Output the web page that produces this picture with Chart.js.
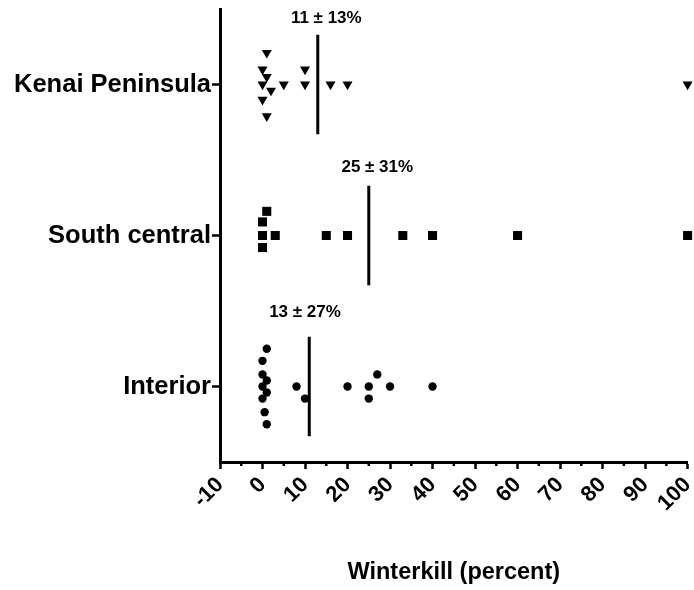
<!DOCTYPE html>
<html>
<head>
<meta charset="utf-8">
<script src="https://cdn.jsdelivr.net/npm/chart.js@4/dist/chart.umd.min.js"></script>
<style>
  html, body { margin: 0; padding: 0; background: #fff; }
  #wrap { width: 694px; height: 590px; }
</style>
</head>
<body>
<div id="wrap"><canvas id="chart"></canvas></div>
<script>
// --- DONNÉES ---
const CATEGORIES = ['Interior', 'South central', 'Kenai Peninsula']; // y = 1, 2, 3
const X_TICKS = [-10, 0, 10, 20, 30, 40, 50, 60, 70, 80, 90, 100];

const kenaiX = [1, 0, 1, 0, 2, 0, 1, 5, 10, 10, 16, 20, 100];
const kenaiY = [3.21, 3.10, 3.05, 3.0, 2.96, 2.90, 2.79, 3.0, 3.10, 3.0, 3.0, 3.0, 3.0];

const southX = [1, 0, 0, 3, 0, 15, 20, 33, 40, 60, 100];
const southY = [2.16, 2.09, 2.0, 2.0, 1.92, 2.0, 2.0, 2.0, 2.0, 2.0, 2.0];

const interiorX = [1, 0, 0, 1, 0, 1, 0, 0.5, 1, 8, 10, 20, 25, 25, 27, 30, 40];
const interiorY = [1.25, 1.17, 1.08, 1.04, 1.0, 0.96, 0.92, 0.83, 0.75, 1.0, 0.92, 1.0, 1.0, 0.92, 1.08, 1.0, 1.0];

// lignes de moyenne (Kenai, South central, Interior)
const meanX = [13, 25, 11];
const meanRow = [3, 2, 1];
const meanHalf = 0.33;
const meanLabels = ['11 \u00B1 13%', '25 \u00B1 31%', '13 \u00B1 27%'];
const labelX = [15, 27, 10];
const labelY = [3.44, 2.45, 1.49];

const FONT = "'Liberation Sans', Arial, sans-serif";

function pts(xs, ys) { return xs.map((x, i) => ({ x: x, y: ys[i] })); }

// Plugin : petites graduations + textes des moyennes
const extrasPlugin = {
    id: 'extras',
    afterDraw(chart) {
        const { ctx, chartArea, scales: { x, y } } = chart;
        ctx.save();
        ctx.strokeStyle = '#000';
        ctx.lineWidth = 2.5;
        for (let v = -5; v < 100; v += 10) {
            const px = x.getPixelForValue(v);
            ctx.beginPath();
            ctx.moveTo(px, chartArea.bottom);
            ctx.lineTo(px, chartArea.bottom + 4);
            ctx.stroke();
        }
        ctx.fillStyle = '#000';
        ctx.font = 'bold 17px ' + FONT;
        ctx.textAlign = 'center';
        ctx.textBaseline = 'middle';
        meanLabels.forEach((t, i) => {
            ctx.fillText(t, x.getPixelForValue(labelX[i]), y.getPixelForValue(labelY[i]));
        });
        ctx.restore();
    }
};

const meanSets = meanX.map((m, i) => ({
    data: [{ x: m, y: meanRow[i] - meanHalf }, { x: m, y: meanRow[i] + meanHalf }],
    showLine: true, borderColor: '#000', borderWidth: 3, pointRadius: 0
}));

new Chart(document.getElementById('chart'), {
    type: 'scatter',
    data: {
        datasets: [
            { data: pts(kenaiX, kenaiY), pointStyle: 'triangle', rotation: 180, pointRadius: 5.8, backgroundColor: '#000', borderWidth: 0, clip: false },
            { data: pts(southX, southY), pointStyle: 'rect', pointRadius: 6.4, backgroundColor: '#000', borderWidth: 0, clip: false },
            { data: pts(interiorX, interiorY), pointStyle: 'circle', pointRadius: 4.2, backgroundColor: '#000', borderWidth: 0, clip: false },
            ...meanSets
        ]
    },
    options: {
        responsive: true, maintainAspectRatio: false,
        animation: false,
        layout: { padding: { top: 9, right: 6, bottom: 3, left: 0 } },
        plugins: { legend: { display: false }, tooltip: { enabled: false } },
        scales: {
            x: {
                type: 'linear', min: -10, max: 100,
                afterBuildTicks: s => { s.ticks = X_TICKS.map(v => ({ value: v })); },
                afterFit: s => { s.height = 125; s.paddingLeft = 0; s.paddingRight = 0; },
                ticks: { color: '#000', font: { family: FONT, size: 22, weight: 'bold' }, minRotation: 45, maxRotation: 45, padding: 3 },
                grid: { drawOnChartArea: false, tickLength: 7, tickWidth: 2.5, tickColor: '#000' },
                border: { color: '#000', width: 3 },
                title: { display: true, text: 'Winterkill (percent)', color: '#000', padding: { top: 4, bottom: 0 }, font: { family: FONT, size: 23.5, weight: 'bold' } }
            },
            y: {
                type: 'linear', min: 0.5, max: 3.5,
                afterBuildTicks: s => { s.ticks = [1, 2, 3].map(v => ({ value: v })); },
                afterFit: s => { s.width = 220; s.paddingTop = 0; s.paddingBottom = 0; },
                ticks: { color: '#000', font: { family: FONT, size: 25.5, weight: 'bold' }, padding: 1, callback: v => CATEGORIES[v - 1] },
                grid: { drawOnChartArea: false, tickLength: 8, tickWidth: 2.5, tickColor: '#000' },
                border: { color: '#000', width: 3 }
            }
        }
    },
    plugins: [extrasPlugin]
});
</script>
</body>
</html>
